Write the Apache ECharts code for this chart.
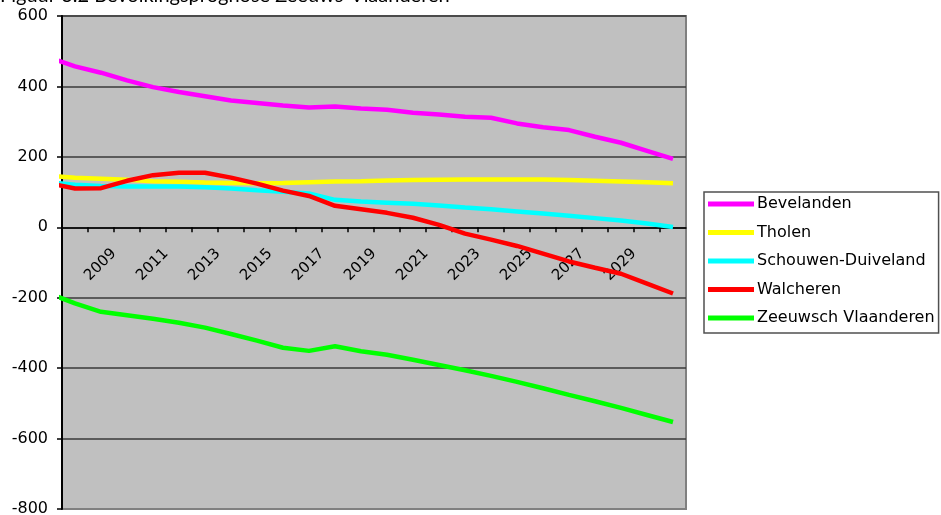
<!DOCTYPE html>
<html>
<head>
<meta charset="utf-8">
<script src="https://cdn.jsdelivr.net/npm/echarts@6/dist/echarts.min.js"></script>
<style>
  html, body { margin: 0; padding: 0; background: #ffffff; }
  #chart { width: 941px; height: 515px; }
</style>
</head>
<body>
<div id="chart"></div>
<script>
// Bevolkingsprognose per regio (saldo t.o.v. basisjaar)
const years = [2007, 2008, 2009, 2010, 2011, 2012, 2013, 2014, 2015, 2016, 2017, 2018, 2019,
               2020, 2021, 2022, 2023, 2024, 2025, 2026, 2027, 2028, 2029, 2030, 2031];

const bevelanden = [482, 457, 439, 417, 398, 384, 372, 360, 353, 346, 340, 343, 337,
                    334, 325, 320, 314, 311, 295, 284, 276, 257, 240, 217, 194];
const tholen = [146, 141, 138, 135, 131, 129, 127, 126, 125, 126, 128, 130, 131,
                133, 134, 135, 136, 136, 136, 136, 134, 132, 130, 128, 125];
const schouwenDuiveland = [128, 121, 117, 116, 116, 116, 114, 110, 105, 101, 96, 78, 73,
                           70, 67, 62, 56, 51, 45, 39, 33, 26, 19, 11, 1];
const walcheren = [125, 110, 111, 132, 148, 155, 155, 141, 124, 104, 89, 61, 51,
                   41, 27, 7, -18, -35, -53, -75, -97, -115, -132, -160, -188];
const zeeuwschVlaanderen = [-188, -216, -240, -250, -260, -271, -285, -303, -322, -342, -351, -338, -352,
                            -362, -376, -391, -406, -422, -439, -457, -476, -494, -513, -533, -553];

const seriesNames = ['Bevelanden', 'Tholen', 'Schouwen-Duiveland', 'Walcheren', 'Zeeuwsch Vlaanderen'];
const seriesValues = [bevelanden, tholen, schouwenDuiveland, walcheren, zeeuwschVlaanderen];
const seriesColors = ['#ff00ff', '#ffff00', '#00ffff', '#ff0000', '#00ff00'];

const tickLabels = ['2009', '2011', '2013', '2015', '2017', '2019', '2021', '2023', '2025', '2027', '2029'];
const yMin = -800, yMax = 600, yStep = 200;

// Each year fills the slot that ends at its tick; the point sits mid-slot.
const slotMid = yr => yr - 0.5;

// Plot box and the height of the zero line inside it
const gridBox = { left: 62, right: 255, top: 16, bottom: 6 };
const plotHeight = 515 - gridBox.top - gridBox.bottom;
const zeroFromBottom = plotHeight * (0 - yMin) / (yMax - yMin);

const chart = echarts.init(document.getElementById('chart'), null, { renderer: 'canvas' });

chart.setOption({
  animation: false,
  backgroundColor: '#ffffff',
  textStyle: { fontFamily: 'DejaVu Sans' },
  graphic: [{
    type: 'text',
    left: 0,
    top: -14,
    style: {
      text: 'Figuur 3.2 Bevolkingsprognose Zeeuws-Vlaanderen',
      fontFamily: 'Lato',
      fontSize: 20,
      fill: '#000000'
    }
  }],
  grid: {
    left: gridBox.left, right: gridBox.right, top: gridBox.top, bottom: gridBox.bottom,
    containLabel: false,
    outerBoundsMode: 'none',
    show: true,
    backgroundColor: '#c0c0c0',
    borderColor: '#808080',
    borderWidth: 2
  },
  legend: {
    orient: 'vertical',
    left: 704,
    top: 192,
    padding: [3, 4, 6, 4],
    itemGap: 10.5,
    itemWidth: 46,
    itemHeight: 5,
    icon: 'rect',
    backgroundColor: '#ffffff',
    borderColor: '#505050',
    borderWidth: 1.5,
    borderRadius: 0,
    textStyle: { fontFamily: 'DejaVu Sans', fontSize: 16, color: '#000000', lineHeight: 18, padding: [0, 0, 0, -2] },
    data: seriesNames
  },
  xAxis: {
    type: 'value',
    position: 'bottom',
    offset: -zeroFromBottom,
    min: years[0],
    max: years[years.length - 1],
    interval: 1,
    axisLine: { show: true, onZero: false, lineStyle: { color: '#000000', width: 1.5 } },
    axisTick: { show: true, length: 5, lineStyle: { color: '#000000', width: 1.5 } },
    splitLine: { show: false },
    axisLabel: {
      rotate: 45,
      margin: 24,
      fontFamily: 'DejaVu Sans',
      fontSize: 15,
      color: '#000000',
      showMinLabel: false,
      showMaxLabel: false,
      formatter: v => (tickLabels.includes(String(v)) ? String(v) : '')
    }
  },
  yAxis: {
    type: 'value',
    min: yMin,
    max: yMax,
    interval: yStep,
    axisLine: { show: true, lineStyle: { color: '#000000', width: 2 } },
    axisTick: { show: true, length: 5, lineStyle: { color: '#000000', width: 1.5 } },
    axisLabel: { margin: 14, fontFamily: 'DejaVu Sans', fontSize: 16, color: '#000000' },
    splitLine: { show: true, showMinLine: false, lineStyle: { color: '#3a3a3a', width: 1.5 } }
  },
  series: seriesNames.map((name, i) => ({
    name,
    type: 'line',
    data: years.map((yr, k) => [slotMid(yr), seriesValues[i][k]]),
    showSymbol: false,
    symbol: 'none',
    clip: true,
    color: seriesColors[i],
    lineStyle: { color: seriesColors[i], width: 4.5 },
    emphasis: { disabled: true }
  }))
});
</script>
</body>
</html>
